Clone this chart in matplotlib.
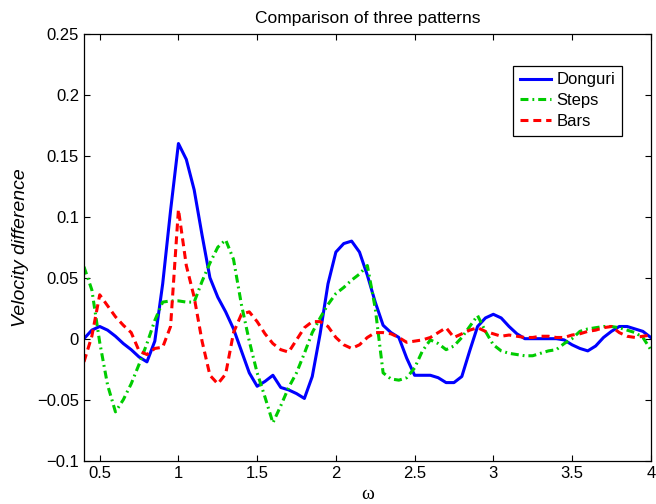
import numpy as np
import matplotlib.pyplot as plt

plt.rcParams['font.family'] = ['Liberation Sans', 'DejaVu Sans']

# frequency grid shared by the three patterns
omega = np.linspace(0.4, 4.0, 73)

donguri = [0.000, 0.007, 0.010, 0.007, 0.002, -0.004, -0.009, -0.015, -0.019, -0.002,
           0.045, 0.105, 0.160, 0.147, 0.122, 0.085, 0.050, 0.034, 0.022, 0.008,
           -0.010, -0.028, -0.039, -0.035, -0.030, -0.040, -0.042, -0.045, -0.049, -0.031,
           0.004, 0.045, 0.071, 0.078, 0.080, 0.071, 0.052, 0.030, 0.011, 0.005,
           0.001, -0.016, -0.030, -0.030, -0.030, -0.032, -0.036, -0.036, -0.031, -0.010,
           0.010, 0.017, 0.020, 0.017, 0.010, 0.004, 0.000, 0.000, 0.000, 0.000,
           0.000, -0.001, -0.005, -0.008, -0.010, -0.006, 0.001, 0.006, 0.010, 0.010,
           0.008, 0.006, 0.001]

steps = [0.059, 0.040, -0.003, -0.038, -0.060, -0.050, -0.037, -0.021, -0.004, 0.015,
         0.030, 0.031, 0.031, 0.030, 0.030, 0.047, 0.062, 0.075, 0.081, 0.065,
         0.028, -0.002, -0.028, -0.048, -0.069, -0.055, -0.040, -0.028, -0.012, 0.005,
         0.017, 0.028, 0.037, 0.042, 0.048, 0.053, 0.060, 0.025, -0.028, -0.033,
         -0.034, -0.032, -0.024, -0.010, -0.001, -0.004, -0.009, -0.006, 0.001, 0.010,
         0.019, 0.006, -0.005, -0.010, -0.012, -0.013, -0.014, -0.014, -0.012, -0.010,
         -0.009, -0.004, 0.000, 0.006, 0.008, 0.009, 0.010, 0.010, 0.009, 0.007,
         0.005, 0.001, -0.009]

bars = [-0.019, 0.002, 0.036, 0.027, 0.018, 0.011, 0.005, -0.010, -0.013, -0.008,
        -0.007, 0.010, 0.106, 0.060, 0.034, -0.002, -0.030, -0.037, -0.029, 0.005,
        0.020, 0.022, 0.014, 0.004, -0.004, -0.009, -0.011, -0.001, 0.009, 0.014,
        0.014, 0.010, 0.001, -0.005, -0.008, -0.005, 0.001, 0.005, 0.005, 0.004,
        0.001, -0.003, -0.002, -0.001, 0.001, 0.005, 0.009, 0.001, 0.004, 0.007,
        0.009, 0.006, 0.004, 0.002, 0.003, 0.002, 0.001, 0.001, 0.002, 0.002,
        0.001, 0.001, 0.003, 0.004, 0.006, 0.007, 0.009, 0.010, 0.005, 0.002,
        0.001, 0.002, 0.003]

x_ticks = [0.5, 1, 1.5, 2, 2.5, 3, 3.5, 4]
x_ticklabels = ['0.5', '1', '1.5', '2', '2.5', '3', '3.5', '4']
y_ticks = [-0.1, -0.05, 0, 0.05, 0.1, 0.15, 0.2, 0.25]
y_ticklabels = ['\u22120.1', '\u22120.05', '0', '0.05', '0.1', '0.15', '0.2', '0.25']

fig = plt.figure(figsize=(6.56, 5.04), dpi=100)
ax = fig.add_axes([0.128, 0.086, 0.864, 0.847])

lw = 2.2
ax.plot(omega, donguri, color='#0000ff', lw=lw, label='Donguri')
ax.plot(omega, steps, color='#00cc00', lw=lw, dashes=(2.6, 1.3, 0.6, 1.3), label='Steps')
ax.plot(omega, bars, color='#ff0000', lw=lw, dashes=(2.6, 1.6), label='Bars')

ax.set_xlim(0.4, 4)
ax.set_ylim(-0.1, 0.25)
ax.set_xticks(x_ticks)
ax.set_xticklabels(x_ticklabels)
ax.set_yticks(y_ticks)
ax.set_yticklabels(y_ticklabels)
ax.tick_params(direction='in', length=4, width=0.8, labelsize=12,
               top=True, right=True, colors='black')
for s in ax.spines.values():
    s.set_linewidth(0.9)

ax.set_title('Comparison of three patterns', fontsize=12.5, pad=8)
ax.set_ylabel('Velocity difference', fontsize=14, style='italic', labelpad=6)
ax.set_xlabel('\u03c9', fontsize=14, family=['Liberation Serif', 'DejaVu Serif'], labelpad=4)

leg = ax.legend(loc='upper right', bbox_to_anchor=(0.949, 0.925), borderaxespad=0,
                fontsize=12, handlelength=1.9, labelspacing=0.35, handletextpad=0.3,
                fancybox=False, framealpha=1, edgecolor='black', borderpad=0.4)
leg.get_frame().set_linewidth(0.9)

fig.savefig('out.png', dpi=100)
